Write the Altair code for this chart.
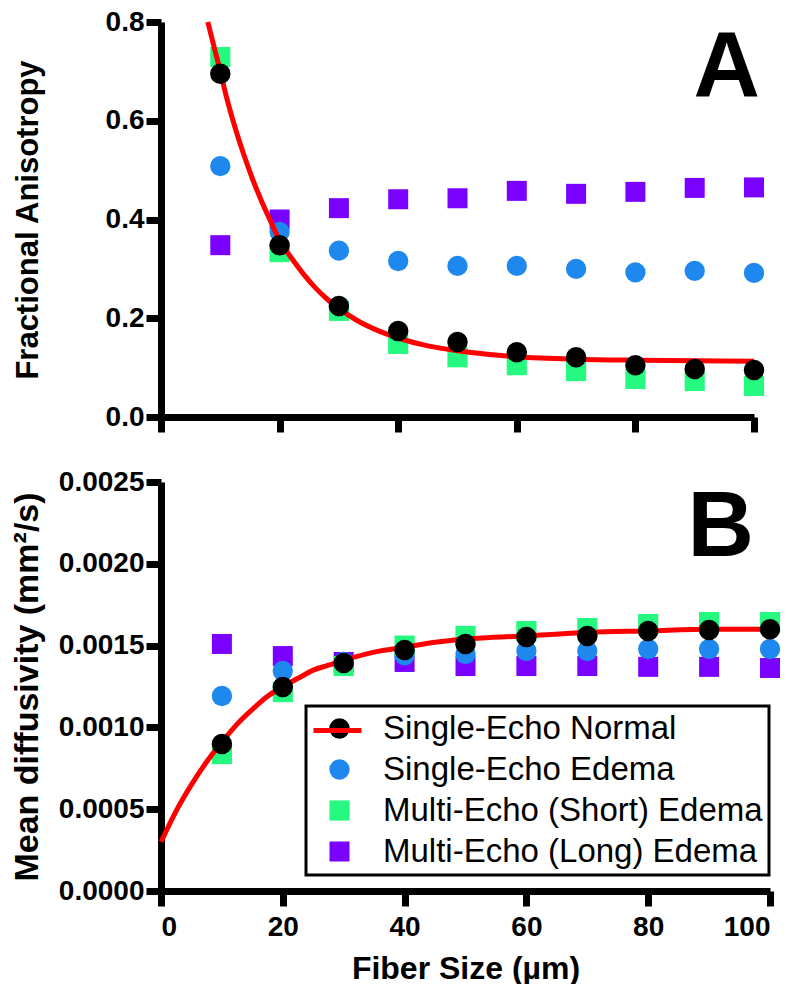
import altair as alt
import pandas as pd

# ---------------- data ----------------
fiber_size = [10, 20, 30, 40, 50, 60, 70, 80, 90, 100]

series_names = ["Single-Echo Normal", "Single-Echo Edema",
                "Multi-Echo (Short) Edema", "Multi-Echo (Long) Edema"]
series_colors = ["#000000", "#1f88ee", "#25f97f", "#7a00ff"]
series_shapes = ["circle", "circle", "square", "square"]
series_sizes = [420, 400, 361, 256]
fit_name = ["Single-Echo Normal"]

# Panel A: Fractional anisotropy
fa_se_normal = [0.695, 0.348, 0.225, 0.174, 0.152, 0.131, 0.121, 0.105, 0.097, 0.095]
fa_se_edema = [0.508, 0.375, 0.337, 0.316, 0.306, 0.306, 0.300, 0.293, 0.296, 0.292]
fa_me_short = [0.729, 0.334, 0.215, 0.148, 0.121, 0.105, 0.093, 0.077, 0.073, 0.063]
fa_me_long = [0.348, 0.400, 0.423, 0.441, 0.443, 0.458, 0.452, 0.456, 0.464, 0.465]

fa_fit_x = [7.9, 9, 10, 11, 12.5, 14, 15.5, 17, 18.5, 20, 22, 24, 26, 28, 30,
            33, 36, 40, 45, 50, 55, 60, 70, 80, 90, 100]
fa_fit_y = [0.800, 0.747, 0.700, 0.650, 0.586, 0.530, 0.480, 0.436, 0.396, 0.358,
            0.322, 0.290, 0.262, 0.239, 0.220, 0.196, 0.178, 0.160, 0.144, 0.134,
            0.127, 0.122, 0.117, 0.115, 0.114, 0.113]

# Panel B: Mean diffusivity
md_se_normal = [0.000898, 0.001247, 0.001394, 0.001473, 0.00151, 0.001552,
                0.001558, 0.001589, 0.001595, 0.0016]
md_se_edema = [0.001192, 0.001345, 0.0014, 0.00144, 0.001449, 0.001467,
               0.001467, 0.001479, 0.001479, 0.001479]
md_me_short = [0.000837, 0.001216, 0.001375, 0.0015, 0.001559, 0.001589,
               0.001607, 0.001632, 0.001644, 0.001644]
md_me_long = [0.00151, 0.001436, 0.0014, 0.0014, 0.001375, 0.001375,
              0.001375, 0.00137, 0.00137, 0.001363]

md_fit_x = [0, 2.5, 5, 7.5, 10, 12.5, 15, 17.5, 20, 22.5, 25, 27.5, 30, 35, 40,
            45, 50, 60, 70, 80, 90, 100]
md_fit_y = [0.00030, 0.00049, 0.00065, 0.00079, 0.00091, 0.00102, 0.00111,
            0.00119, 0.00125, 0.00130, 0.00135, 0.00138, 0.00141, 0.00146,
            0.00149, 0.00152, 0.00154, 0.00156, 0.00158, 0.00159, 0.00160,
            0.00160]

x_ticks = [0, 20, 40, 60, 80, 100]
fa_ticks = [0.0, 0.2, 0.4, 0.6, 0.8]
md_ticks = [0.0, 0.0005, 0.0010, 0.0015, 0.0020, 0.0025]

FONT = "Liberation Sans"


def long_df(values_by_series, names):
    rows = []
    for name, vals in zip(names, values_by_series):
        for xv, yv in zip(fiber_size, vals):
            rows.append({"x": xv, "y": yv, "series": name})
    return pd.DataFrame(rows)


def axis_style(**kw):
    base = dict(domainColor="black", domainWidth=7, tickColor="black",
                tickWidth=7, tickSize=15, grid=False,
                labelFont=FONT, labelFontSize=28, labelFontWeight="bold",
                labelColor="black", titleFont=FONT, titleFontSize=30,
                titleFontWeight="bold", titleColor="black")
    base.update(kw)
    return alt.Axis(**base)


def panel(back_vals, front_vals, fit_x, fit_y, ydomain, yticks, yfmt,
          ytitle, ytitle_size, width, height, letter, letter_x,
          show_legend, show_xlabels):
    back = long_df(back_vals, [series_names[3], series_names[1], series_names[2]])
    front = long_df(front_vals, [series_names[0]])
    fit = pd.DataFrame({"x": fit_x, "y": fit_y, "fit": fit_name * len(fit_x)})

    xaxis = axis_style(values=x_ticks, labels=show_xlabels, labelPadding=7,
                       title="Fiber Size (µm)" if show_xlabels else None,
                       titleFontSize=32, titlePadding=12, format="d")
    yaxis = axis_style(values=yticks, format=yfmt, labelPadding=2, title=ytitle,
                       titleFontSize=ytitle_size,
                       titleX=-117, titleAngle=270, titleAlign="center",
                       titleBaseline="bottom")
    xs = alt.Scale(domain=[0, 100], nice=False, zero=False)
    ys = alt.Scale(domain=ydomain, nice=False, zero=False)
    xenc = alt.X("x:Q", scale=xs, axis=xaxis)
    yenc = alt.Y("y:Q", scale=ys, axis=yaxis)

    if show_legend:
        pt_legend = alt.Legend(title=None, orient="none", legendX=145, legendY=224,
                               padding=6, strokeColor="black",
                               fillColor="white", labelFont=FONT, labelFontSize=33,
                               labelColor="black", labelLimit=700, labelOffset=27,
                               symbolOffset=11, rowPadding=7, symbolStrokeWidth=0,
                               zindex=1)
        ln_legend = alt.Legend(title=None, orient="none", legendX=150, legendY=222,
                               padding=0, symbolType="stroke", symbolSize=2304,
                               symbolStrokeWidth=5, labelExpr="''",
                               labelFontSize=33, zindex=2)
    else:
        pt_legend = None
        ln_legend = None

    def enc_points(chart):
        color = alt.Color("series:N", scale=alt.Scale(domain=series_names, range=series_colors),
                          legend=pt_legend)
        shape = alt.Shape("series:N", scale=alt.Scale(domain=series_names, range=series_shapes),
                          legend=pt_legend)
        size = alt.Size("series:N", scale=alt.Scale(domain=series_names, range=series_sizes),
                        legend=pt_legend)
        return chart.encode(x=xenc, y=yenc, color=color, shape=shape, size=size)

    back_layer = enc_points(alt.Chart(back).mark_point(filled=True, opacity=1))
    front_layer = enc_points(alt.Chart(front).mark_point(filled=True, opacity=1))
    line_layer = alt.Chart(fit).mark_line(interpolate="monotone", strokeWidth=5).encode(
        x=xenc, y=yenc,
        stroke=alt.Stroke("fit:N", scale=alt.Scale(domain=fit_name, range=["#ff0000"]),
                          legend=ln_legend),
    )
    letter_layer = alt.Chart(pd.DataFrame({"label": [letter]})).mark_text(
        font=FONT, fontSize=92, fontWeight="bold", color="black",
        align="right", baseline="alphabetic"
    ).encode(text="label:N", x=alt.value(letter_x), y=alt.value(74))

    return alt.layer(back_layer, line_layer, front_layer, letter_layer).properties(
        width=width, height=height)


panel_a = panel([fa_me_long, fa_se_edema, fa_me_short], [fa_se_normal],
                fa_fit_x, fa_fit_y, [0, 0.8], fa_ticks, ".1f",
                "Fractional Anisotropy", 31, 593, 395, "A", 599, False, False)
panel_b = panel([md_me_long, md_se_edema, md_me_short], [md_se_normal],
                md_fit_x, md_fit_y, [0, 0.0025], md_ticks, ".4f",
                "Mean diffusivity (mm²/s)", 34, 609, 409, "B", 593, True, True)

chart = alt.vconcat(panel_a, panel_b, spacing=65, bounds="flush").resolve_scale(
    color="independent", shape="independent", size="independent", stroke="independent"
).configure_view(stroke=None).configure_legend(strokeWidth=3).properties(
    padding={"left": 1, "top": 0, "right": 0, "bottom": 0}
)

chart.save("out.html", embed_options={"renderer": "svg", "actions": False})
